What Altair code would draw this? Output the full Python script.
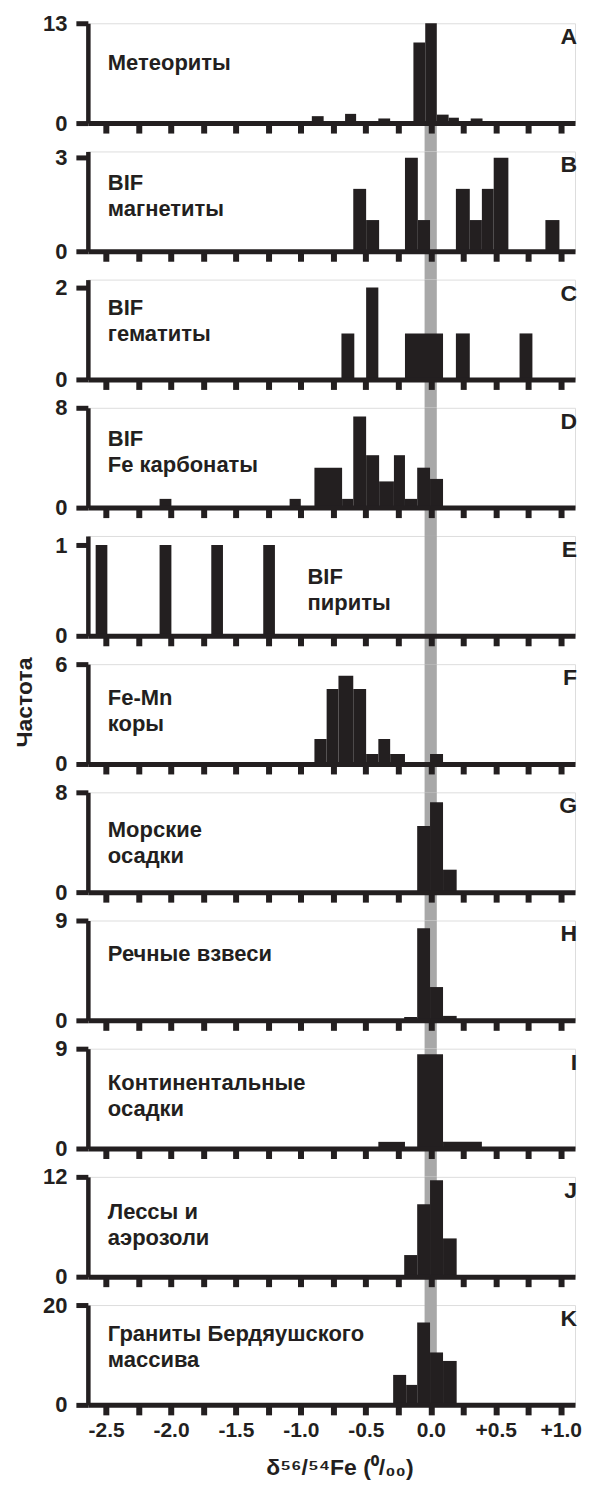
import altair as alt
import pandas as pd

FONT = "Liberation Sans"
INK = "#231f20"
BAND = "#a8a8a8"

panel_ids = ["A", "B", "C", "D", "E", "F", "G", "H", "I", "J", "K"]
panel_names = [
    ["Метеориты"],
    ["BIF", "магнетиты"],
    ["BIF", "гематиты"],
    ["BIF", "Fe карбонаты"],
    ["BIF", "пириты"],
    ["Fe-Mn", "коры"],
    ["Морские", "осадки"],
    ["Речные взвеси"],
    ["Континентальные", "осадки"],
    ["Лессы и", "аэрозоли"],
    ["Граниты Бердяушского", "массива"],
]
y_tick_max = [13, 3, 2, 8, 1, 6, 8, 9, 9, 12, 20]
y_axis_top = [13, 3.2, 2.17, 8, 1.1, 6, 8, 9, 9, 12, 20]

# histogram bars: bin low edge, bin high edge, frequency
A_lo = [-0.916, -0.660, -0.404, -0.134, -0.043, 0.046, 0.137, 0.307]
A_hi = [-0.825, -0.575, -0.313, -0.043, 0.046, 0.137, 0.216, 0.398]
A_n = [0.9, 1.2, 0.6, 10.5, 13, 1.1, 0.7, 0.6]

B_lo = [-0.597, -0.498, -0.199, -0.100, 0.193, 0.300, 0.393, 0.484, 0.882]
B_hi = [-0.498, -0.398, -0.100, -0.006, 0.300, 0.393, 0.484, 0.597, 0.990]
B_n = [2, 1, 3, 1, 2, 1, 2, 3, 1]

C_lo = [-0.688, -0.498, -0.199, 0.193, 0.683]
C_hi = [-0.589, -0.404, 0.094, 0.300, 0.782]
C_n = [1, 2, 1, 1, 1]

D_lo = [-2.088, -1.087, -0.896, -0.683, -0.597, -0.498, -0.398, -0.284, -0.199, -0.105, -0.006]
D_hi = [-1.997, -1.001, -0.683, -0.597, -0.498, -0.398, -0.284, -0.199, -0.105, -0.006, 0.094]
D_n = [0.7, 0.7, 3.2, 0.7, 7.3, 4.2, 2.1, 4.2, 0.7, 3.2, 2.3]

E_lo = [-2.58, -2.088, -1.69, -1.29]
E_hi = [-2.49, -1.997, -1.60, -1.20]
E_n = [1, 1, 1, 1]

F_lo = [-0.896, -0.802, -0.711, -0.597, -0.498, -0.404, -0.313, -0.006]
F_hi = [-0.802, -0.711, -0.597, -0.498, -0.404, -0.313, -0.199, 0.094]
F_n = [1.5, 4.5, 5.3, 4.5, 0.6, 1.5, 0.6, 0.6]

G_lo = [-0.105, -0.006, 0.094]
G_hi = [-0.006, 0.094, 0.199]
G_n = [5.3, 7.2, 1.8]

H_lo = [-0.205, -0.105, -0.006, 0.094]
H_hi = [-0.105, -0.006, 0.094, 0.199]
H_n = [0.3, 8.3, 3.0, 0.4]

I_lo = [-0.404, -0.105, 0.094]
I_hi = [-0.199, 0.094, 0.393]
I_n = [0.6, 8.5, 0.6]

J_lo = [-0.205, -0.105, -0.006, 0.094]
J_hi = [-0.105, -0.006, 0.094, 0.199]
J_n = [2.6, 8.7, 11.6, 4.6]

K_lo = [-0.290, -0.190, -0.105, -0.006, 0.094]
K_hi = [-0.190, -0.105, -0.006, 0.094, 0.199]
K_n = [6.0, 4.0, 16.5, 10.5, 8.8]

bars = [
    (A_lo, A_hi, A_n), (B_lo, B_hi, B_n), (C_lo, C_hi, C_n), (D_lo, D_hi, D_n),
    (E_lo, E_hi, E_n), (F_lo, F_hi, F_n), (G_lo, G_hi, G_n), (H_lo, H_hi, H_n),
    (I_lo, I_hi, I_n), (J_lo, J_hi, J_n), (K_lo, K_hi, K_n),
]

band_lo = [-0.048]
band_hi = [0.046]

x_ticks = [-2.5, -2.25, -2.0, -1.75, -1.5, -1.25, -1.0, -0.75, -0.5, -0.25, 0.0, 0.25, 0.5, 0.75, 1.0]
x_domain = [-2.64, 1.11]

W, H, GAP = 488, 100, 28.4
label_x = [20, 20, 20, 20, 220, 20, 20, 20, 20, 20, 20]
label_y = [30, 22, 18, 21, 31, 24, 28, 24, 24, 25, 19]

x_label_expr = (
    "abs(datum.value*2 - round(datum.value*2)) > 0.01 ? '' : "
    "(datum.value > 0.001 ? '+' + format(datum.value, '.1f') : "
    "(datum.value < -0.001 ? '-' + format(-datum.value, '.1f') : '0.0'))"
)

panels = []
n_p = len(panel_ids)
for i in range(n_p):
    last = i == n_p - 1
    lo, hi, n = bars[i]
    df = pd.DataFrame({"lo": lo, "hi": hi, "n": n})

    x_axis_kwargs = dict(
        values=x_ticks, domainWidth=5, domainColor=INK, tickColor=INK,
        tickWidth=6, tickSize=10, grid=False, zindex=1, labels=last,
        labelExpr=x_label_expr, labelFont=FONT, labelFontSize=21,
        labelFontWeight="bold", labelColor=INK, labelPadding=5,
        labelFlush=False, labelOverlap=False,
    )
    if last:
        x_axis_kwargs.update(
            title="δ⁵⁶/⁵⁴Fe (⁰/₀₀)", titleFont=FONT, titleFontSize=23,
            titleFontWeight="bold", titleColor=INK, titlePadding=16,
            titleX=252,
        )
    else:
        x_axis_kwargs.update(title=None)
    x_axis = alt.Axis(**x_axis_kwargs)
    x_scale = alt.Scale(domain=x_domain, nice=False, zero=False)

    y_axis_kwargs = dict(
        values=[0, y_tick_max[i]], format="d", domainWidth=4.5,
        domainColor=INK, tickColor=INK, tickWidth=5, tickSize=12,
        grid=False, zindex=1, labelFont=FONT, labelFontSize=22,
        labelFontWeight="bold", labelColor=INK, labelPadding=9,
    )
    if i == 5:
        y_axis_kwargs.update(
            title="Частота", titleFont=FONT, titleFontSize=23,
            titleFontWeight="bold", titleColor=INK, titlePadding=18,
            titleY=38,
        )
    else:
        y_axis_kwargs.update(title=None)
    y_axis = alt.Axis(**y_axis_kwargs)
    y_scale = alt.Scale(domain=[0, y_axis_top[i]], nice=False, zero=True)

    band_top = 0 if i >= 1 else H
    band_bot = H + GAP if i <= n_p - 2 else H
    band = alt.Chart(pd.DataFrame({"lo": band_lo, "hi": band_hi})).mark_rect(
        color=BAND
    ).encode(
        x=alt.X("lo:Q", scale=x_scale, axis=x_axis),
        x2="hi:Q",
        y=alt.value(band_top),
        y2=alt.value(band_bot),
    )

    hist = alt.Chart(df).mark_rect(color=INK).encode(
        x=alt.X("lo:Q", scale=x_scale, axis=x_axis),
        x2="hi:Q",
        y=alt.Y("n:Q", scale=y_scale, axis=y_axis),
        y2=alt.datum(0),
    )

    letter = alt.Chart(pd.DataFrame({"t": [panel_ids[i]]})).mark_text(
        align="right", baseline="middle", font=FONT, fontSize=23,
        fontWeight="bold", color=INK,
    ).encode(x=alt.value(W + 2), y=alt.value(14), text="t:N")

    name = alt.Chart(pd.DataFrame({"t": [panel_names[i]]})).mark_text(
        align="left", baseline="top", font=FONT, fontSize=22,
        fontWeight="bold", color=INK, lineHeight=26,
    ).encode(x=alt.value(label_x[i]), y=alt.value(label_y[i]), text="t")

    panels.append(
        alt.layer(band, hist, letter, name).properties(width=W, height=H)
    )

chart = alt.vconcat(*panels, spacing=GAP, bounds="flush").properties(
    padding={"left": 5, "right": 5, "top": 2, "bottom": 5}
).configure_view(stroke=None).configure(background="white")

chart.save("out.html", embed_options={"renderer": "svg", "actions": False})
